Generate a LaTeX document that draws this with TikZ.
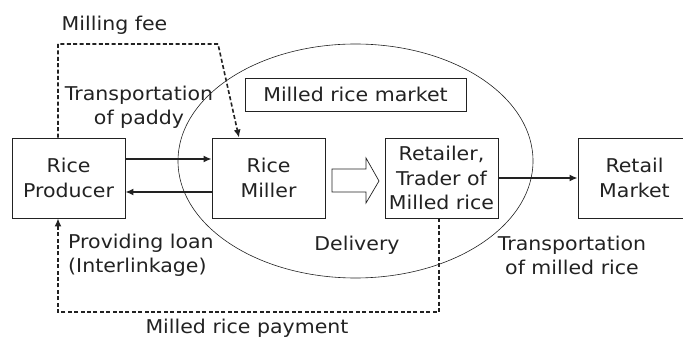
\documentclass[tikz,border=0pt]{standalone}
\usepackage{fontspec}
\setmainfont[FakeStretch=1.08]{DejaVu Sans}
\usetikzlibrary{arrows.meta}
\definecolor{ink}{HTML}{222222}
\begin{document}
\begin{tikzpicture}[x=1pt,y=-1pt,
  every node/.style={font=\fontsize{19}{24.5}\selectfont, text=ink},
  actor/.style={draw=ink, line width=0.8pt, minimum width=113pt, minimum height=80pt, align=center, inner sep=0pt},
  label/.style={align=center, inner sep=0pt},
  flow/.style={line width=2.4pt, draw=ink, -{Latex[length=8pt,width=7pt]}},
  money/.style={line width=1.6pt, draw=ink, dash pattern=on 4pt off 2.4pt, -{Latex[length=8pt,width=7pt]}},
  hollow/.style={draw=ink, line width=0.7pt, fill=white}]
\useasboundingbox (0,0) rectangle (683,347);
\clip (0,0) rectangle (683,347);
% market ellipse
\draw[ink, line width=0.6pt] (355.5,161) ellipse [x radius=177.5pt, y radius=117pt];
% boxes
\node[actor] (prod) at (68.5,178) {Rice\\Producer};
\node[actor] (miller) at (268.5,178) {Rice\\Miller};
\node[actor] (ret) at (441.5,178) {Retailer,\\Trader of\\Milled rice};
\node[actor] (mkt) at (634.5,178) {Retail\\Market};
\node[draw=ink, line width=0.8pt, minimum width=221pt, minimum height=33pt, inner sep=0pt] (mrm) at (355.5,94.5) {Milled rice market};
% solid flows
\draw[flow] ([yshift=19pt]prod.east) -- ([yshift=19pt]miller.west);
\draw[flow] ([yshift=-14pt]miller.west) -- ([yshift=-14pt]prod.east);
\draw[flow] (ret.east) -- (mkt.west);
% hollow delivery arrow
\draw[hollow] (332,169) -- (366,169) -- (366,158) -- (379,181) -- (366,203) -- (366,192) -- (332,192) -- cycle;
% dashed money flows
\coordinate (mf1) at (58,44);
\coordinate (mf2) at (218,44);
\draw[money] ([xshift=-10.5pt]prod.north) -- (mf1) -- (mf2) -- ([xshift=-29.5pt]miller.north);
\coordinate (mp1) at (439,312);
\coordinate (mp2) at (58,312);
\draw[money] ([xshift=-2.5pt]ret.south) -- (mp1) -- (mp2) -- ([xshift=-10.5pt]prod.south);
% labels (base = baseline of last line)
\node[label, anchor=base] (lfee) at (114.5,31) {Milling fee};
\node[label, anchor=base] (lpaddy) at (139,125) {Transportation\\of paddy};
\node[align=left, inner sep=0pt, anchor=base west] (lloan) at (68,273) {Providing loan\\(Interlinkage)};
\node[label, anchor=base] (ldel) at (357,251) {Delivery};
\node[label, anchor=base] (lmilled) at (572,275) {Transportation\\of milled rice};
\node[label, anchor=base] (lpay) at (247,334) {Milled rice payment};
\end{tikzpicture}
\end{document}
